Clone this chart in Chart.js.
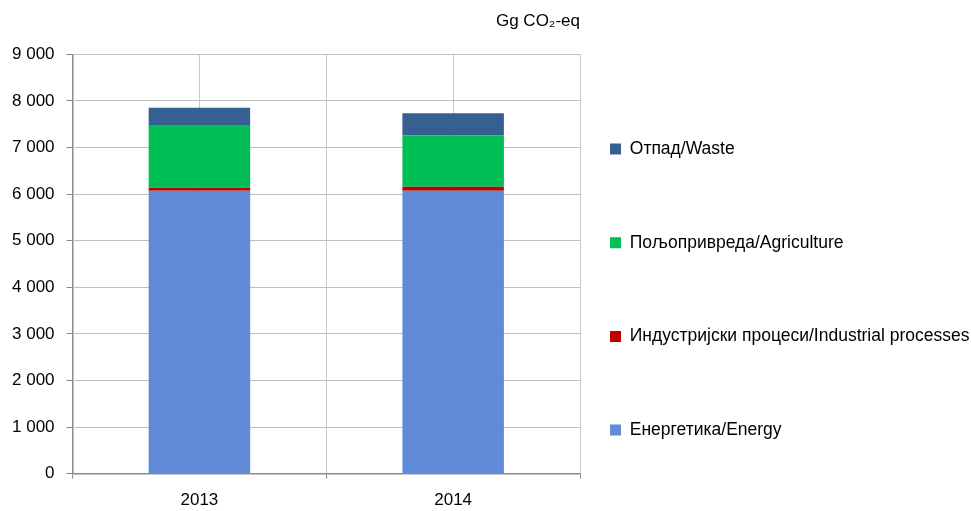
<!DOCTYPE html>
<html>
<head>
<meta charset="utf-8">
<script src="https://cdn.jsdelivr.net/npm/chart.js@4/dist/chart.umd.min.js"></script>
<style>
  html, body { margin: 0; padding: 0; background: #fff; }
  #wrap { width: 971px; height: 511px; }
</style>
</head>
<body>
<div id="wrap"><canvas id="emChart" width="971" height="511"></canvas></div>
<script>
var years = ['2013', '2014'];
var energy = [6070, 6070];
var industrial = [65, 86];
var agriculture = [1348, 1107];
var waste = [374, 472];
var seriesNames = ['Енергетика/Energy', 'Индустријски процеси/Industrial processes', 'Пољопривреда/Agriculture', 'Отпад/Waste'];
var unitLabel = 'Gg CO₂-eq';

Chart.defaults.font.family = "'Liberation Sans', Arial, sans-serif";
Chart.defaults.font.size = 17;
Chart.defaults.color = '#000';

function spaced(v) {
  return String(v).replace(/\B(?=(\d{3})+(?!\d))/g, ' ');
}

var ctx = document.getElementById('emChart').getContext('2d');
var myChart = new Chart(ctx, {
  type: 'bar',
  data: {
    labels: years,
    datasets: [
      { label: seriesNames[0], data: energy, backgroundColor: '#618ad8' },
      { label: seriesNames[1], data: industrial, backgroundColor: '#c00000' },
      { label: seriesNames[2], data: agriculture, backgroundColor: '#00bf55' },
      { label: seriesNames[3], data: waste, backgroundColor: '#376092' }
    ]
  },
  options: {
    responsive: false,
    animation: false,
    layout: { padding: { left: 0, right: -8.5, top: 0, bottom: -12 } },
    datasets: {
      bar: { categoryPercentage: 1, barPercentage: 0.4, borderWidth: 0 }
    },
    scales: {
      x: {
        stacked: true,
        grid: { offset: true, color: '#c8c8c8', tickColor: '#8c8c8c', tickLength: 5 },
        border: { color: '#8c8c8c', width: 1.5 },
        ticks: { padding: 12 }
      },
      x2: {
        position: 'top',
        grid: { offset: false, color: '#c8c8c8', drawTicks: false },
        border: { display: false },
        ticks: { display: false }
      },
      y: {
        stacked: true,
        min: 0,
        max: 9000,
        ticks: { stepSize: 1000, padding: 12, callback: function(v) { return spaced(v); } },
        grid: { color: '#c0c0c0', tickColor: '#8c8c8c', tickLength: 6 },
        border: { color: '#8c8c8c', width: 1.5 }
      }
    },
    plugins: {
      legend: {
        position: 'right',
        align: 'start',
        reverse: true,
        maxWidth: 500,
        title: {
          display: true,
          text: ' ',
          font: { size: 10, lineHeight: 1 },
          padding: { top: 0, bottom: 100.25 }
        },
        labels: {
          boxWidth: 11,
          boxHeight: 11,
          padding: 30,
          font: { size: 17.5, lineHeight: 3.64 },
          generateLabels: function(chart) {
            return Chart.defaults.plugins.legend.labels.generateLabels(chart).map(function(item) {
              item.text = [item.text];
              return item;
            });
          }
        }
      },
      title: {
        display: true,
        text: unitLabel,
        position: 'top',
        align: 'end',
        fullSize: false,
        font: { size: 17, weight: 'normal' },
        padding: { top: 11, bottom: 23 }
      },
      tooltip: { enabled: false }
    }
  }
});
</script>
</body>
</html>
